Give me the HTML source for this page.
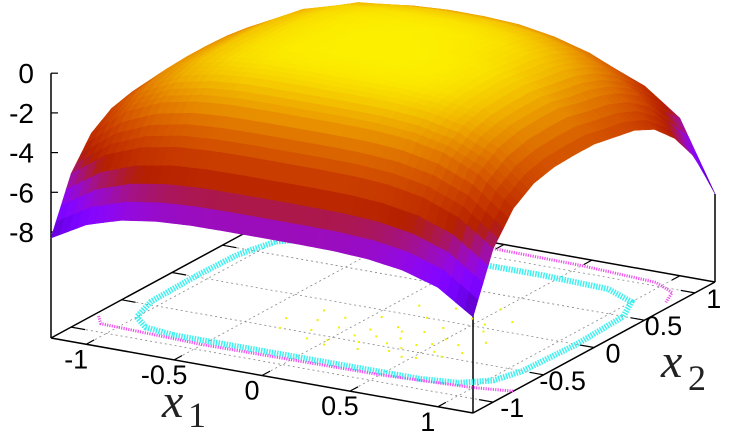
<!DOCTYPE html>
<html><head><meta charset="utf-8"><style>
html,body{margin:0;padding:0;background:#fff;}
svg{display:block;font-family:"Liberation Sans",sans-serif;}
</style></head><body>
<svg id="chart" width="746" height="442" viewBox="0 0 746 442" xmlns="http://www.w3.org/2000/svg">
<rect x="0" y="0" width="746" height="442" fill="#fff"/>
<g id="base"></g>
<g id="points"></g>
<g id="surf"></g>
<g id="axes"></g>
<text x="162" y="417" font-family="Liberation Serif,serif" font-style="italic" font-size="48" fill="#222">x</text>
<text x="188" y="427" font-family="Liberation Serif,serif" font-size="36" fill="#222">1</text>
<text x="661" y="377" font-family="Liberation Serif,serif" font-style="italic" font-size="48" fill="#222">x</text>
<text x="688" y="390" font-family="Liberation Serif,serif" font-size="36" fill="#222">2</text>
</svg>
<script>
const x1Grid=[-1.2,-1.0,-0.8,-0.6,-0.4,-0.2,0,0.2,0.4,0.6,0.8,1.0,1.2];
const x2Grid=[-1.2,-1.0,-0.8,-0.6,-0.4,-0.2,0,0.2,0.4,0.6,0.8,1.0,1.2];
const zRows=[
[-8.3,-7.32,-6.78,-6.52,-6.42,-6.40,-6.40,-6.40,-6.42,-6.52,-6.78,-7.32,-8.5],
[-5.61,-4.35,-3.67,-3.34,-3.22,-3.19,-3.19,-3.19,-3.22,-3.34,-3.67,-4.35,-5.61],
[-4.13,-2.73,-1.96,-1.60,-1.46,-1.43,-1.43,-1.43,-1.46,-1.60,-1.96,-2.73,-4.13],
[-3.43,-1.96,-1.15,-0.77,-0.62,-0.59,-0.59,-0.59,-0.62,-0.77,-1.15,-1.96,-3.43],
[-3.16,-1.67,-0.85,-0.46,-0.31,-0.28,-0.28,-0.28,-0.31,-0.46,-0.85,-1.67,-3.16],
[-3.10,-1.60,-0.78,-0.39,-0.24,-0.21,-0.21,-0.21,-0.24,-0.39,-0.78,-1.60,-3.10],
[-3.10,-1.60,-0.77,-0.38,-0.24,-0.20,-0.20,-0.20,-0.24,-0.38,-0.77,-1.60,-3.10],
[-3.15,-1.65,-0.80,-0.40,-0.25,-0.20,-0.20,-0.22,-0.30,-0.50,-0.95,-1.90,-3.30],
[-3.30,-1.80,-0.90,-0.45,-0.28,-0.23,-0.22,-0.25,-0.35,-0.60,-1.10,-2.10,-3.50],
[-3.70,-2.10,-1.10,-0.60,-0.42,-0.36,-0.35,-0.40,-0.55,-0.90,-1.50,-2.50,-4.00],
[-4.60,-2.80,-1.60,-1.00,-0.80,-0.70,-0.70,-0.75,-0.95,-1.40,-2.10,-3.20,-5.00],
[-6.00,-3.80,-2.40,-1.70,-1.40,-1.30,-1.30,-1.40,-1.70,-2.20,-3.00,-4.40,-6.50],
[-8.00,-5.60,-3.90,-2.90,-2.50,-2.40,-2.40,-2.50,-2.80,-3.40,-4.10,-5.40,-8.90]
];
const zTicks=[0,-2,-4,-6,-8];
const xTicks=[-1,-0.5,0,0.5,1];
const xTickLabels=["-1","-0.5","0","0.5","1"];
const cyanRing=[[-0.7,-0.86],[0,-0.86],[0.7,-0.86],[0.9,-0.82],[1.03,-0.7],[1.08,-0.5],[1.1,0],[1.08,0.5],[1.0,0.72],[0.8,0.84],[0.4,0.87],[0,0.87],[-0.5,0.86],[-0.85,0.82],[-1.0,0.68],[-1.06,0.4],[-1.07,0],[-1.06,-0.45],[-1.0,-0.7],[-0.88,-0.82],[-0.7,-0.86]];
const magentaFront=[[-1.17,-0.78],[-1.1,-0.88],[-0.5,-0.92],[0.5,-0.9],[1.0,-0.85],[1.2,-0.8]];
const magentaBack=[[-1.18,0.95],[-0.6,1.13],[-0.1,1.12],[0.5,1.1],[0.95,1.05],[1.1,0.95],[1.15,0.8]];
const yellowPts=[[0.1,-0.3],[0.2,-0.2],[0.3,-0.35],[0.4,-0.1],[0.5,-0.25],[0.15,-0.5],[0.35,-0.55],[0.55,-0.45],[0.25,0.0],[0.45,0.1],[0.6,-0.05],[0.05,-0.1],[-0.05,-0.35],[0.3,0.2],[0.5,0.3],[0.65,0.15],[0.2,-0.6],[0.45,-0.6],[0.6,-0.3],[0.0,-0.55],[-0.1,-0.2],[0.35,-0.2],[0.12,0.15],[0.55,0.05],[0.7,-0.2],[0.28,-0.45],[0.42,-0.4],[0.08,-0.42],[0.62,-0.5],[-0.15,-0.45],[-0.2,-0.3],[-0.3,-0.5],[-0.25,-0.15],[-0.35,-0.35],[0.02,-0.62],[0.18,-0.38],[0.38,-0.48],[0.52,-0.58],[0.68,-0.4],[-0.1,-0.58],[0.25,-0.25],[0.48,-0.35]];

const NS='http://www.w3.org/2000/svg';
const ZB=-13.34, ZS=19.85;
function P(x1,x2,z){const s=(x1+1.2)/2.4,t=(x2+1.2)/2.4;return [51+422*s+242*t,338+75*s-131*t-(z-ZB)*ZS];}
function mk(tag,attrs,parent){const e=document.createElementNS(NS,tag);for(const k in attrs)e.setAttribute(k,attrs[k]);parent.appendChild(e);return e;}
function col(z){let x=(z+9.5)/9.5;x=Math.max(0,Math.min(1,x));const r=Math.sqrt(x),g=x*x*x,b=Math.max(0,Math.sin(2*Math.PI*x));return 'rgb('+Math.round(r*255)+','+Math.round(g*255)+','+Math.round(b*255)+')';}
const base=document.getElementById('base'),pts=document.getElementById('points'),surf=document.getElementById('surf'),axes=document.getElementById('axes');
function line(par,a,b,st,w,dash,name){const l=mk('line',{x1:a[0].toFixed(1),y1:a[1].toFixed(1),x2:b[0].toFixed(1),y2:b[1].toFixed(1),stroke:st,'stroke-width':w},par);if(dash)l.setAttribute('stroke-dasharray',dash);


return l;}
xTicks.forEach(v=>{
 line(base,P(v,-1.2,ZB),P(v,1.2,ZB),'#888',0.8,'2 3','grid-line-x1');
 line(base,P(-1.2,v,ZB),P(1.2,v,ZB),'#888',0.8,'2 3','grid-line-x2');
});
line(base,P(-1.2,-1.2,ZB),P(-1.2,1.2,ZB),'#000',1.5,null,'back-left-edge');
line(base,P(-1.2,1.2,ZB),P(1.2,1.2,ZB),'#000',1.5,null,'back-right-edge');
line(base,P(-1.2,-1.2,ZB),P(-1.2,-1.2,0),'#000',1.5,null,'z-axis-line');
line(base,P(1.2,-1.2,ZB),P(1.2,-1.2,-6),'#000',1.5,null,'front-vertical-edge');
line(base,P(1.2,1.2,ZB),P(1.2,1.2,-8.9),'#000',1.5,null,'right-vertical-edge');
line(base,P(-1.2,-1.2,ZB),P(1.2,-1.2,ZB),'#000',1.5,null,'x1-axis-line');
line(base,P(1.2,-1.2,ZB),P(1.2,1.2,ZB),'#000',1.5,null,'x2-axis-line');
xTicks.forEach((v,i)=>{
 line(base,P(v,-1.2,ZB),P(v,-1.12,ZB),'#000',1.2,null,'x1-tick');
 line(base,P(v,1.2,ZB),P(v,1.12,ZB),'#000',1.2,null,'x1-mirror-tick');
 line(base,P(1.2,v,ZB),P(1.12,v,ZB),'#000',1.2,null,'x2-tick');
 line(base,P(-1.2,v,ZB),P(-1.12,v,ZB),'#000',1.2,null,'x2-mirror-tick');
 const a=P(v,-1.2,ZB);
 const t1=mk('text',{x:(a[0]-10).toFixed(1),y:(a[1]+24).toFixed(1),'font-size':27,'text-anchor':'middle',fill:'#000'},axes);t1.textContent=xTickLabels[i];
 
 
 const b=P(1.2,v,ZB);
 const t2=mk('text',{x:(b[0]+19).toFixed(1),y:(b[1]+15).toFixed(1),'font-size':27,'text-anchor':'middle',fill:'#000'},axes);t2.textContent=xTickLabels[i];
 
 
});
zTicks.forEach(z=>{
 const a=P(-1.2,-1.2,z);
 line(base,a,[a[0]+7,a[1]],'#000',1.2,null,'z-tick');
 const t=mk('text',{x:34,y:(a[1]+10).toFixed(1),'font-size':28,'text-anchor':'end',fill:'#000'},axes);t.textContent=String(z);
 
 
});
function poly(arr,stroke,w,dash,name){const d=arr.map((p,i)=>{const q=P(p[0],p[1],ZB);return (i?'L':'M')+q[0].toFixed(1)+' '+q[1].toFixed(1);}).join('');
const e=mk('path',{d:d,fill:'none',stroke:stroke,'stroke-width':w,'stroke-dasharray':dash},pts);

}
poly(cyanRing,'#40f0f0',6,'1.5 1.2','cyan-point-ring');
poly(magentaFront,'#f050f0',3,'1.2 1.2','magenta-point-ring-front');
poly(magentaBack,'#f050f0',3,'1.2 1.2','magenta-point-ring-back');
yellowPts.forEach(p=>{const q=P(p[0],p[1],ZB);const r=mk('rect',{x:(q[0]-1).toFixed(1),y:(q[1]-1).toFixed(1),width:2,height:2,fill:'#f0f000'},pts);

});
const SUB=4,N=x1Grid.length-1;
function zAt(fi,fj){const i=Math.min(N-1,Math.floor(fi)),j=Math.min(N-1,Math.floor(fj));const u=fi-i,v=fj-j;
return zRows[j][i]*(1-u)*(1-v)+zRows[j][i+1]*u*(1-v)+zRows[j+1][i]*(1-u)*v+zRows[j+1][i+1]*u*v;}
function xv(arr,f){const i=Math.min(N-1,Math.floor(f));return arr[i]+(arr[i+1]-arr[i])*(f-i);}
const quads=[];const M=N*SUB;
for(let j=0;j<M;j++)for(let i=0;i<M;i++){
 const c=[[i,j],[i+1,j],[i+1,j+1],[i,j+1]].map(([a,b])=>{const fi=a/SUB,fj=b/SUB;const z=zAt(fi,fj);return {p:P(xv(x1Grid,fi),xv(x2Grid,fj),z),z:z};});
 const zc=(c[0].z+c[1].z+c[2].z+c[3].z)/4;
 const cp=P(xv(x1Grid,(i+.5)/SUB),xv(x2Grid,(j+.5)/SUB),ZB);
 quads.push({c:c,z:zc,d:cp[1]});
}
quads.sort((a,b)=>a.d-b.d);
quads.forEach(q=>{const col_=col(q.z);
 const e=mk('polygon',{points:q.c.map(o=>o.p[0].toFixed(1)+','+o.p[1].toFixed(1)).join(' '),fill:col_,stroke:col_,'stroke-width':0.6},surf);
 
 
});
</script>
</body></html>
